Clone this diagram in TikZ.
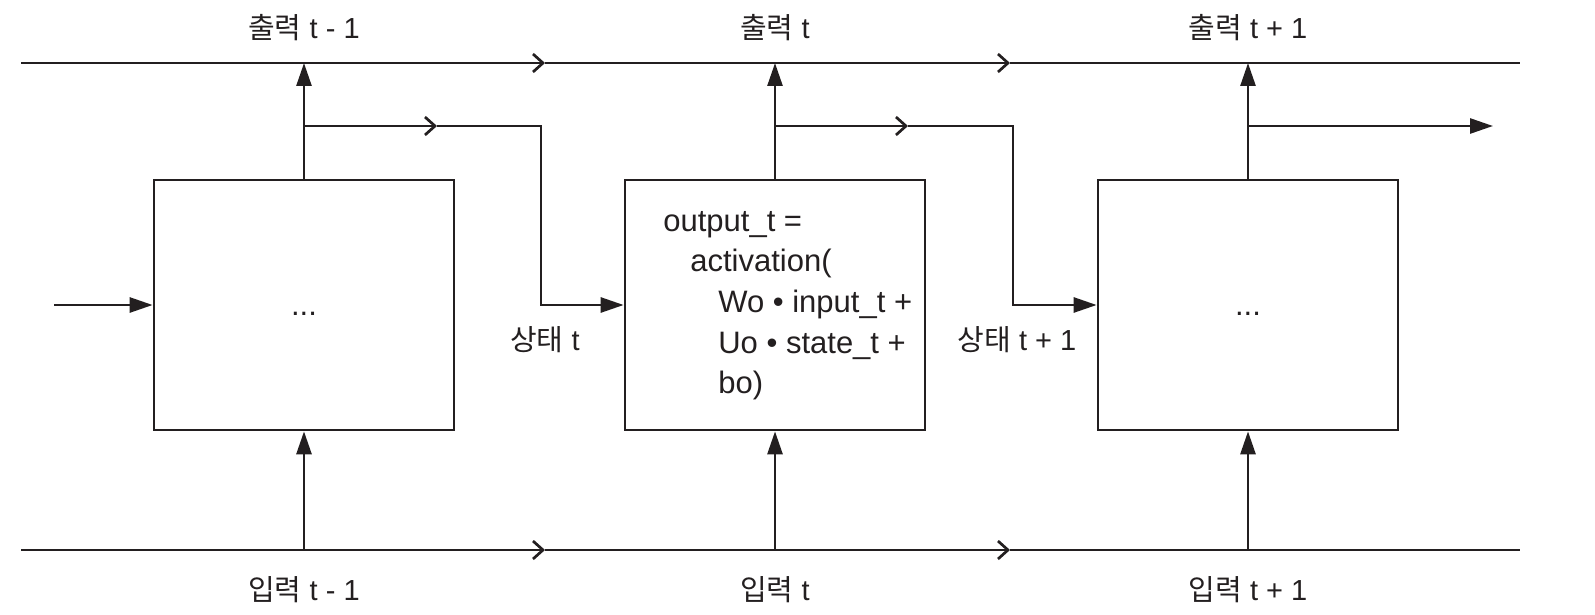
\documentclass[tikz,border=0pt]{standalone}
\usepackage{fontspec}
\setmainfont{Liberation Sans}
\newfontfamily\kr{Noto Sans CJK KR}
\usetikzlibrary{arrows.meta}
\definecolor{ink}{RGB}{35,31,32}
\begin{document}
\begin{tikzpicture}[x=0.5pt,y=-0.5pt,line width=1.35pt,draw=ink,
  cell/.style={draw=ink,minimum width=150pt,minimum height=125pt,inner sep=0pt},
  fillarrow/.style={-{Triangle[length=11.5pt,width=7.5pt]}},
  openarrow/.style={-{Straight Barb[length=5pt,width=9pt]}},
  lbl/.style={font=\fontsize{14.5}{17}\selectfont,text=ink,inner sep=0pt},
  code/.style={font=\fontsize{15.5}{18}\selectfont,text=ink,anchor=base west,inner sep=0pt}]
\useasboundingbox (0,0) rectangle (1595,615);
% boxes
\node[cell] (b1) at (304,305) {};
\node[cell] (b2) at (775,305) {};
\node[cell] (b3) at (1248,305) {};
% top and bottom rails
\coordinate (tl) at (21,63);
\coordinate (tc1) at (545,63);
\coordinate (tc2) at (1010,63);
\coordinate (tr) at (1520,63);
\coordinate (bl) at (21,550);
\coordinate (bc1) at (545,550);
\coordinate (bc2) at (1010,550);
\coordinate (br) at (1520,550);
\draw[openarrow] (tl) -- (tc1);
\draw[openarrow] (tc1) -- (tc2);
\draw (tc2) -- (tr);
\draw[openarrow] (bl) -- (bc1);
\draw[openarrow] (bc1) -- (bc2);
\draw (bc2) -- (br);
% outputs
\draw[fillarrow] (b1.north) -- (b1.north |- tl);
\draw[fillarrow] (b2.north) -- (b2.north |- tl);
\draw[fillarrow] (b3.north) -- (b3.north |- tl);
% inputs
\draw[fillarrow] (b1.south |- bl) -- (b1.south);
\draw[fillarrow] (b2.south |- bl) -- (b2.south);
\draw[fillarrow] (b3.south |- bl) -- (b3.south);
% state into first box
\coordinate (s0) at (54,305);
\draw[fillarrow] (s0) -- (b1.west);
% state 1
\coordinate (s1a) at (304,126);
\coordinate (s1m) at (437,126);
\coordinate (s1c) at (541,126);
\coordinate (s1d) at (541,305);
\draw[openarrow] (s1a) -- (s1m);
\draw[fillarrow] (s1m) -- (s1c) -- (s1d) -- (b2.west);
% state 2
\coordinate (s2a) at (775,126);
\coordinate (s2m) at (908,126);
\coordinate (s2c) at (1013,126);
\coordinate (s2d) at (1013,305);
\draw[openarrow] (s2a) -- (s2m);
\draw[fillarrow] (s2m) -- (s2c) -- (s2d) -- (b3.west);
% state 3 out
\coordinate (s3a) at (1248,126);
\coordinate (s3e) at (1493,126);
\draw[fillarrow] (s3a) -- (s3e);
% labels
\node[lbl] (o1) at (304,28) {{\kr 출력} t - 1};
\node[lbl] (o2) at (775,28) {{\kr 출력} t};
\node[lbl] (o3) at (1248,28) {{\kr 출력} t + 1};
\node[lbl] (i1) at (304,590) {{\kr 입력} t - 1};
\node[lbl] (i2) at (775,590) {{\kr 입력} t};
\node[lbl] (i3) at (1248,590) {{\kr 입력} t + 1};
\node[lbl] (st1) at (545,340) {{\kr 상태} t};
\node[lbl] (st2) at (1017,340) {{\kr 상태} t + 1};
% box contents
\node[font=\fontsize{15.5}{18}\selectfont,text=ink,inner sep=0pt] (d1) at (304,314) {...};
\node[font=\fontsize{15.5}{18}\selectfont,text=ink,inner sep=0pt] (d3) at (1248,314) {...};
\node[code] (f1) at (662,231) {output\_t =};
\node[code] (f2) at (689,271) {activation(};
\node[code] (f3) at (717,312) {Wo • input\_t +};
\node[code] (f4) at (717,353) {Uo • state\_t +};
\node[code] (f5) at (717,393) {bo)};
\end{tikzpicture}
\end{document}
